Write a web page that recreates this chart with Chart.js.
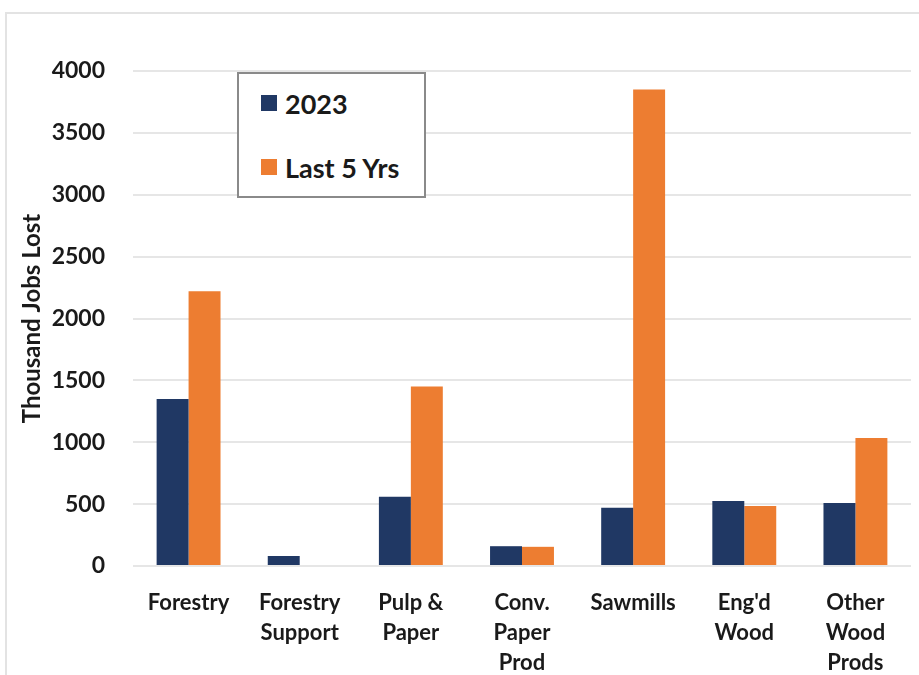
<!DOCTYPE html>
<html>
<head>
<meta charset="utf-8">
<script src="https://cdn.jsdelivr.net/npm/chart.js@4"></script>
<style>
  html, body { margin: 0; padding: 0; background: #fff; }
  #wrap { position: relative; width: 919px; height: 675px; }
  #frame { position: absolute; left: 5px; top: 12px; right: 0; bottom: 0; border-left: 2px solid #e3e3e3; border-top: 2px solid #e3e3e3; }
  canvas { position: absolute; left: 0; top: 0; }
  #legend {
    position: absolute; left: 237px; top: 72px; width: 189px; height: 126px;
    border: 2px solid #8a8a8a; background: #fff; box-sizing: border-box;
    font-family: Lato, "Open Sans", sans-serif; font-weight: 700; font-size: 27px; color: #1a1a1a;
  }
  #legend .item { position: absolute; left: 22px; height: 30px; display: flex; align-items: center; white-space: nowrap; }
  #legend .sw { width: 16px; height: 16px; margin-right: 8px; }
</style>
</head>
<body>
<div id="wrap">
  <div id="frame"></div>
  <canvas id="c" width="919" height="675"></canvas>
  <div id="legend"></div>
</div>
<script>
// Job losses by wood-products sector (thousands)
const categories = [
  "Forestry",
  ["Forestry", "Support"],
  ["Pulp &", "Paper"],
  ["Conv.", "Paper", "Prod"],
  "Sawmills",
  ["Eng'd", "Wood"],
  ["Other", "Wood", "Prods"]
];
const seriesNames = ["2023", "Last 5 Yrs"];
const jobs2023 = [1350, 80, 560, 160, 470, 525, 510];
const jobsLast5 = [2220, 0, 1450, 155, 3850, 485, 1035];
const yTicks = [0, 500, 1000, 1500, 2000, 2500, 3000, 3500, 4000];

const navy = "#203864";
const orange = "#ED7D31";
const font = "Lato, 'Open Sans', sans-serif";

const chart = new Chart(document.getElementById("c"), {
  type: "bar",
  data: {
    labels: categories,
    datasets: [
      { label: seriesNames[0], data: jobs2023, backgroundColor: navy },
      { label: seriesNames[1], data: jobsLast5, backgroundColor: orange }
    ]
  },
  options: {
    responsive: false,
    animation: false,
    layout: { padding: { left: 18, top: 71, right: 8, bottom: 0 } },
    datasets: { bar: { barPercentage: 1.0, categoryPercentage: 0.575 } },
    plugins: { legend: { display: false }, tooltip: { enabled: false } },
    scales: {
      x: {
        afterFit: (s) => { s.height = 109; },
        grid: { display: false },
        border: { display: false },
        ticks: {
          color: "#1a1a1a", padding: 14, maxRotation: 0, autoSkip: false,
          font: { family: font, weight: "bold", size: 22, lineHeight: 1.36 }
        }
      },
      y: {
        min: 0, max: 4000,
        afterFit: (s) => { s.width = 115; },
        afterBuildTicks: (s) => { s.ticks = yTicks.map(v => ({ value: v })); },
        grid: { color: "#e6e6e6", lineWidth: 2, drawTicks: false },
        border: { display: false },
        ticks: {
          color: "#1a1a1a", padding: 28,
          callback: (v) => String(v),
          font: { family: font, weight: "bold", size: 23 }
        },
        title: {
          display: true, text: "Thousand Jobs Lost", color: "#1a1a1a",
          font: { family: font, weight: "bold", size: 24 }, padding: { top: 0, bottom: 0 }
        }
      }
    }
  }
});

// Boxed legend inside the plot area, built from the datasets
const legend = document.getElementById("legend");
chart.data.datasets.forEach((ds, i) => {
  const item = document.createElement("div");
  item.className = "item";
  item.style.top = (i === 0 ? 14 : 78) + "px";
  const sw = document.createElement("span");
  sw.className = "sw";
  sw.style.background = ds.backgroundColor;
  const t = document.createElement("span");
  t.textContent = ds.label;
  item.appendChild(sw);
  item.appendChild(t);
  legend.appendChild(item);
});
</script>
</body>
</html>
